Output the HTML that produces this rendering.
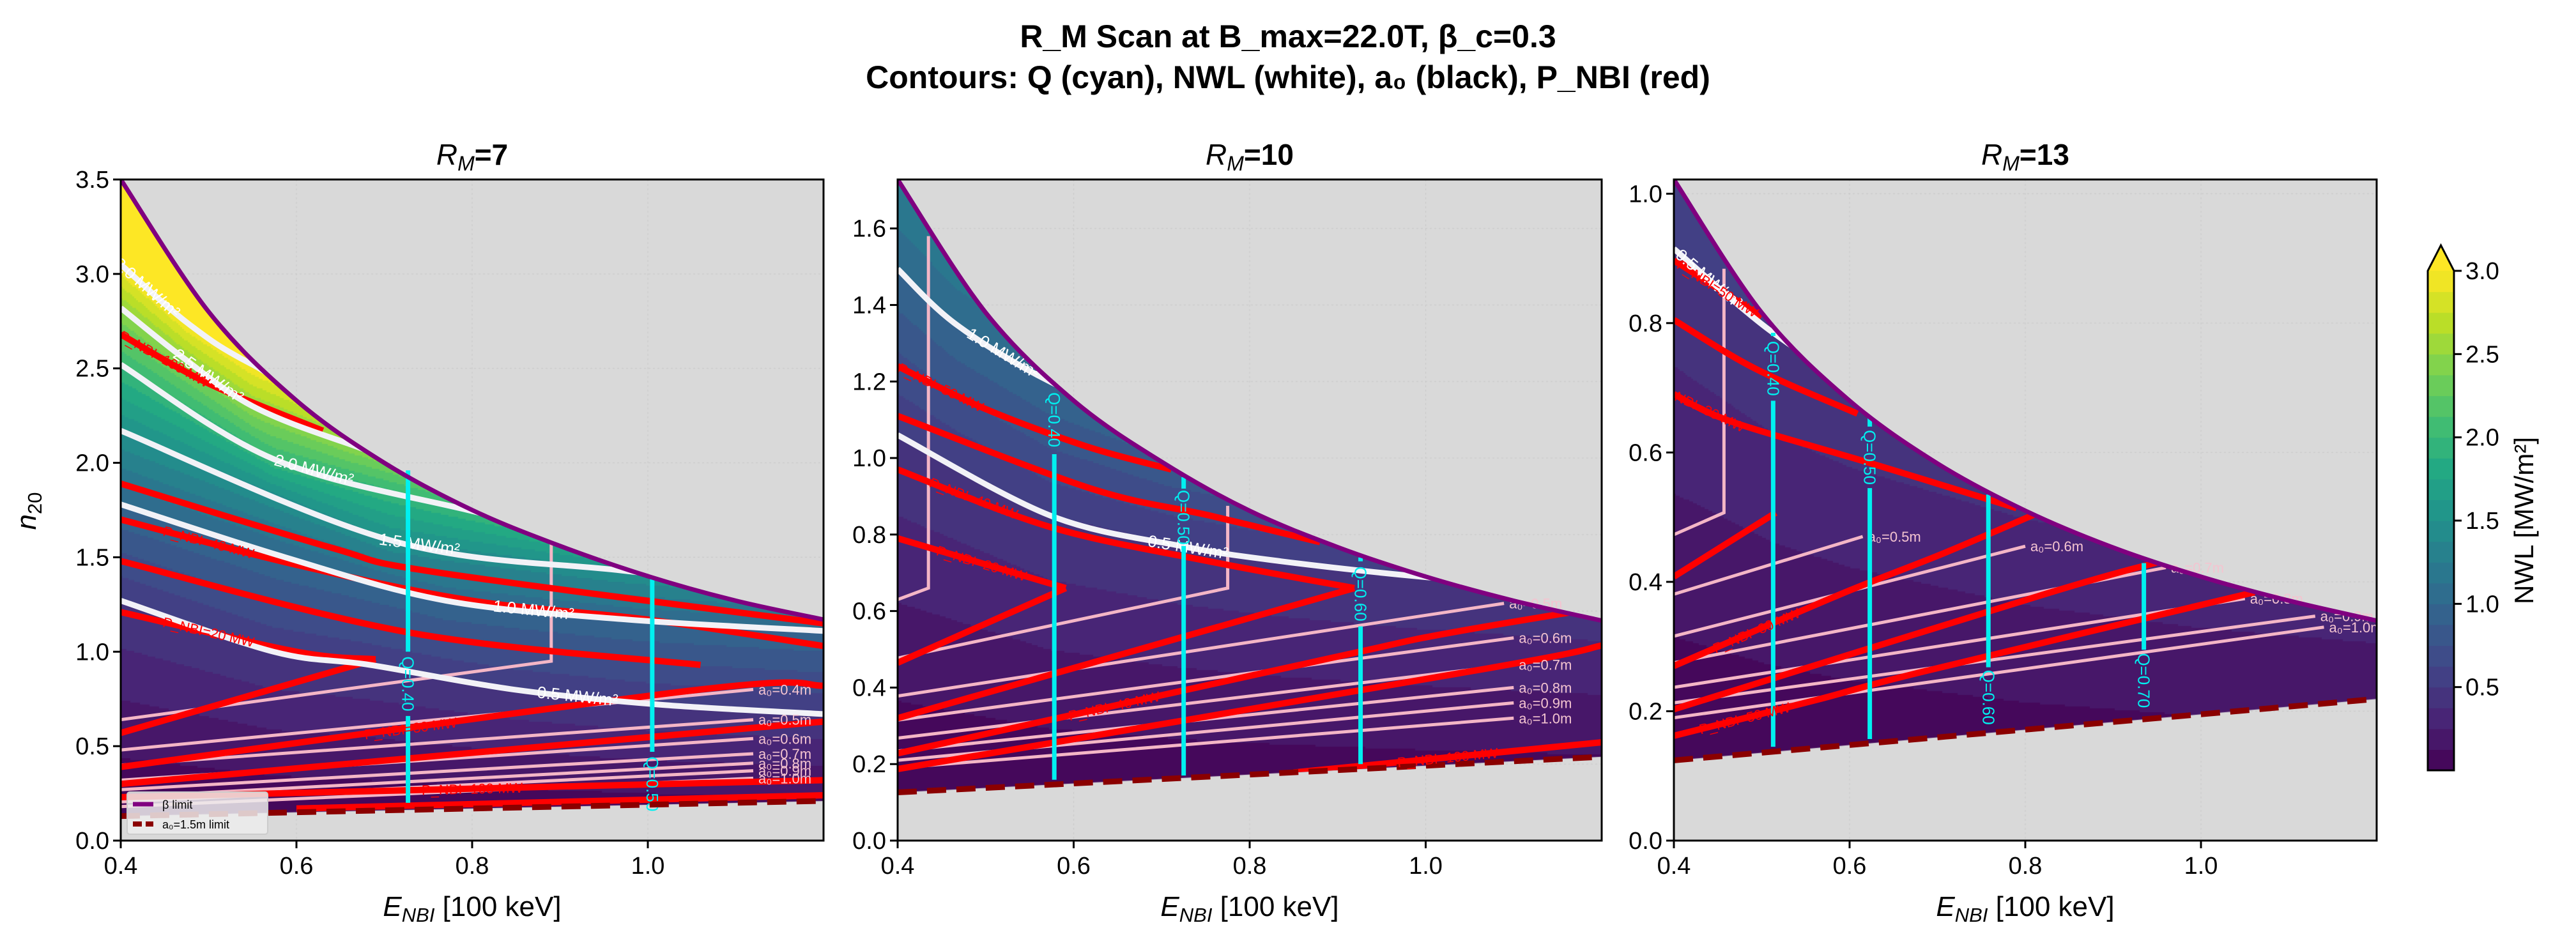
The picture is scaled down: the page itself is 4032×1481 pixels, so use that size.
<!DOCTYPE html>
<html>
<head>
<meta charset="utf-8">
<style>
  html,body{margin:0;padding:0;background:#fff;}
  #wrap{position:relative;width:4032px;height:1481px;overflow:hidden;background:#fff;}
  canvas,svg{position:absolute;left:0;top:0;}
  text{font-family:"Liberation Sans","DejaVu Sans",sans-serif;}
</style>
</head>
<body>
<div id="wrap">
<canvas id="cv" width="4032" height="1481"></canvas>
<svg id="sv" width="4032" height="1481" xmlns="http://www.w3.org/2000/svg">
  <text x="2016" y="74" text-anchor="middle" font-size="50" font-weight="bold">R_M Scan at B_max=22.0T, β_c=0.3</text>
  <text x="2016" y="138" text-anchor="middle" font-size="50" font-weight="bold">Contours: Q (cyan), NWL (white), a₀ (black), P_NBI (red)</text>
</svg>
</div>
<script>
// ---------------- DATA ----------------
const xTicks = [0.4, 0.6, 0.8, 1.0];
const panelTitles = ['7', '10', '13'];
const p1YTicks = [0.0, 0.5, 1.0, 1.5, 2.0, 2.5, 3.0, 3.5];
const p2YTicks = [0.0, 0.2, 0.4, 0.6, 0.8, 1.0, 1.2, 1.4, 1.6];
const p3YTicks = [0.0, 0.2, 0.4, 0.6, 0.8, 1.0];
const yMaxes = [3.5, 1.728, 1.022];

const p1Beta = [[0.4,3.5],[0.5,2.8],[0.6,2.33],[0.7,2.0],[0.8,1.75],[0.9,1.56],[1.0,1.4],[1.1,1.27],[1.2,1.17]];
const p2Beta = [[0.4,1.728],[0.5,1.38],[0.6,1.15],[0.7,0.99],[0.8,0.862],[0.9,0.767],[1.0,0.69],[1.1,0.627],[1.2,0.575]];
const p3Beta = [[0.4,1.022],[0.5,0.816],[0.6,0.68],[0.7,0.583],[0.8,0.51],[0.9,0.453],[1.0,0.408],[1.1,0.371],[1.2,0.34]];
const p1Lower = [[0.4,0.13],[1.2,0.21]];
const p2Lower = [[0.4,0.126],[1.2,0.219]];
const p3Lower = [[0.4,0.124],[1.2,0.219]];

const p1NwlLevels = [0.5, 1.0, 1.5, 2.0, 2.5, 3.0];
const p1NwlCurves = [
  [[0.4,1.27],[0.574,1.0],[0.684,0.93],[0.847,0.80],[1.013,0.72],[1.2,0.67]],
  [[0.4,1.78],[0.587,1.5],[0.77,1.27],[0.977,1.17],[1.2,1.11]],
  [[0.4,2.17],[0.707,1.59],[0.97,1.43],[1.2,1.33]],
  [[0.4,2.52],[0.574,2.02],[0.795,1.75],[1.0,1.55],[1.2,1.42]],
  [[0.4,2.82],[0.47,2.56],[0.55,2.3],[0.66,2.1],[0.8,1.9],[1.2,1.55]],
  [[0.4,3.05],[0.476,2.74],[0.55,2.52],[0.7,2.2],[1.2,1.7]]
];
const p2NwlLevels = [0.5, 1.0];
const p2NwlCurves = [
  [[0.4,1.06],[0.573,0.85],[0.722,0.77],[0.836,0.73],[0.993,0.69],[1.2,0.65]],
  [[0.4,1.494],[0.466,1.35],[0.573,1.2],[0.7,1.08],[0.9,0.97],[1.2,0.88]]
];
const p3NwlLevels = [0.5];
const p3NwlCurves = [
  [[0.4,0.915],[0.513,0.785],[0.6,0.72],[0.8,0.62],[1.0,0.56],[1.2,0.52]]
];

const p1Red = [
  [[0.4,2.68],[0.5,2.42],[0.63,2.17]],
  [[0.4,1.89],[0.64,1.55],[0.76,1.42],[1.2,1.15]],
  [[0.4,1.70],[0.6,1.46],[0.8,1.27],[1.0,1.17],[1.2,1.03]],
  [[0.4,1.48],[0.73,1.10],[1.06,0.93]],
  [[0.4,1.21],[0.6,1.0],[0.69,0.96]],
  [[0.69,0.96],[0.4,0.57]],
  [[0.4,0.39],[1.06,0.80],[1.2,0.82]],
  [[0.4,0.30],[1.2,0.63]],
  [[0.4,0.23],[1.2,0.32]],
  [[0.6,0.17],[1.2,0.24]]
];
const p1RedLabels = ['100','50','40','30','20','20','30','50','100','100'];
const p2Red = [
  [[0.4,1.24],[0.498,1.13],[0.615,1.03],[0.711,0.97]],
  [[0.4,1.11],[0.62,0.92],[0.754,0.85],[0.88,0.78]],
  [[0.4,0.97],[0.573,0.82],[0.754,0.73],[0.919,0.66]],
  [[0.919,0.66],[0.4,0.32]],
  [[0.4,0.79],[0.591,0.66]],
  [[0.591,0.66],[0.4,0.465]],
  [[0.4,0.228],[0.892,0.477],[1.02,0.54],[1.2,0.61]],
  [[0.4,0.187],[1.07,0.45],[1.2,0.51]],
  [[0.85,0.178],[1.2,0.257]]
];
const p2RedLabels = ['50','50','40','30','20','20','40','50','100'];
const p3Red = [
  [[0.4,0.897],[0.5,0.81]],
  [[0.4,0.805],[0.492,0.73],[0.609,0.66]],
  [[0.4,0.69],[0.465,0.648],[0.625,0.583],[0.79,0.514]],
  [[0.4,0.408],[0.516,0.507]],
  [[0.4,0.27],[0.588,0.38],[0.705,0.443],[0.81,0.504]],
  [[0.4,0.203],[0.822,0.381],[0.95,0.43]],
  [[0.4,0.162],[0.561,0.217],[0.683,0.261],[1.061,0.384]]
];
const p3RedLabels = ['50','40','30','20','30','40','50'];

const p1Pink = [
  [[0.4,0.64],[0.89,0.95],[0.89,1.58]],
  [[0.4,0.48],[1.12,0.80]],
  [[0.4,0.40],[1.12,0.64]],
  [[0.4,0.32],[1.12,0.54]],
  [[0.4,0.27],[1.12,0.46]],
  [[0.4,0.23],[1.12,0.41]],
  [[0.4,0.205],[1.12,0.37]],
  [[0.4,0.18],[1.12,0.33]]
];
const p1PinkLabels = ['', 'a₀=0.4m', 'a₀=0.5m', 'a₀=0.6m', 'a₀=0.7m', 'a₀=0.8m', 'a₀=0.9m', 'a₀=1.0m'];
const p2Pink = [
  [[0.4,0.63],[0.435,0.66],[0.435,1.58]],
  [[0.4,0.477],[0.775,0.66],[0.775,0.875]],
  [[0.4,0.378],[1.089,0.62]],
  [[0.4,0.315],[1.1,0.53]],
  [[0.4,0.268],[1.1,0.46]],
  [[0.4,0.234],[1.1,0.40]],
  [[0.4,0.21],[1.1,0.36]],
  [[0.4,0.19],[1.1,0.32]]
];
const p2PinkLabels = ['', '', 'a₀=0.5m', 'a₀=0.6m', 'a₀=0.7m', 'a₀=0.8m', 'a₀=0.9m', 'a₀=1.0m'];
const p3Pink = [
  [[0.4,0.473],[0.457,0.507],[0.457,0.884]],
  [[0.4,0.381],[0.615,0.47]],
  [[0.4,0.316],[0.8,0.455]],
  [[0.4,0.275],[0.96,0.422]],
  [[0.4,0.237],[1.05,0.374]],
  [[0.4,0.213],[1.13,0.347]],
  [[0.4,0.19],[1.14,0.33]]
];
const p3PinkLabels = ['', 'a₀=0.5m', 'a₀=0.6m', 'a₀=0.7m', 'a₀=0.8m', 'a₀=0.9m', 'a₀=1.0m'];

const p1QE = [0.727, 1.005];
const p1QRange = [[0.2,1.96],[0.13,1.39]];
const p1QGap = [[0.66,1.0],[0.13,0.47]];
const p1QLabels = ['Q=0.40','Q=0.50'];
const p2QE = [0.578, 0.725, 0.926];
const p2QRange = [[0.159,1.19],[0.17,0.95],[0.2,0.74]];
const p2QGap = [[1.01,1.19],[0.77,0.92],[0.56,0.73]];
const p2QLabels = ['Q=0.40','Q=0.50','Q=0.60'];
const p3QE = [0.513, 0.623, 0.758, 0.935];
const p3QRange = [[0.145,0.785],[0.157,0.654],[0.175,0.535],[0.2,0.429]];
const p3QGap = [[0.68,0.78],[0.545,0.64],[0.175,0.268],[0.2,0.295]];
const p3QLabels = ['Q=0.40','Q=0.50','Q=0.60','Q=0.70'];

const cbTicks = [0.5, 1.0, 1.5, 2.0, 2.5, 3.0];

// ---------------- LAYOUT ----------------
const Y0 = 281, Y1 = 1316, XMIN = 0.4, XMAX = 1.2;
const panelX = [[189,1289],[1405,2507],[2620,3720]];
const NS = 'http://www.w3.org/2000/svg';
const svg = document.getElementById('sv');
const ctx = document.getElementById('cv').getContext('2d');

function el(tag, attrs, parent) {
  const e = document.createElementNS(NS, tag);
  for (const k in attrs) e.setAttribute(k, attrs[k]);
  (parent || svg).appendChild(e);
  return e;
}
const VIR = ['#440154','#482475','#414487','#355f8d','#2a788e','#21918c','#22a884','#44bf70','#7ad151','#bddf26','#fde725'];
function hex(h){return [parseInt(h.substr(1,2),16),parseInt(h.substr(3,2),16),parseInt(h.substr(5,2),16)];}
const VIRC = VIR.map(hex);
function viridis(t) {
  t = Math.max(0, Math.min(1, t));
  const f = t * 10, i = Math.min(9, Math.floor(f)), r = f - i;
  const a = VIRC[i], b = VIRC[i+1];
  return 'rgb(' + Math.round(a[0]+(b[0]-a[0])*r) + ',' + Math.round(a[1]+(b[1]-a[1])*r) + ',' + Math.round(a[2]+(b[2]-a[2])*r) + ')';
}
function bandColor(v) {
  const b = Math.floor(v / 0.125);
  if (b >= 24) return '#fde725';
  return viridis((Math.max(b,0) + 0.5) / 24);
}
function interp(curve, E) {
  let i = 0;
  if (E <= curve[0][0]) i = 0;
  else if (E >= curve[curve.length-1][0]) i = curve.length - 2;
  else { while (i < curve.length - 2 && curve[i+1][0] < E) i++; }
  const a = curve[i], b = curve[i+1];
  return a[1] + (b[1]-a[1]) * (E - a[0]) / (b[0]-a[0]);
}
function linD(pts, sx, sy) {
  return 'M' + pts.map(p => sx(p[0]).toFixed(1) + ',' + sy(p[1]).toFixed(1)).join(' L');
}
function pathD(pts, sx, sy) {
  const P = pts.map(p => [sx(p[0]), sy(p[1])]);
  if (P.length < 3) return linD(pts, sx, sy);
  let d = 'M' + P[0][0].toFixed(1) + ',' + P[0][1].toFixed(1);
  for (let i = 0; i < P.length - 1; i++) {
    const p0 = P[Math.max(0,i-1)], p1 = P[i], p2 = P[i+1], p3 = P[Math.min(P.length-1,i+2)];
    const c1 = [p1[0] + (p2[0]-p0[0])/6, p1[1] + (p2[1]-p0[1])/6];
    const c2 = [p2[0] - (p3[0]-p1[0])/6, p2[1] - (p3[1]-p1[1])/6];
    d += ' C' + c1[0].toFixed(1)+','+c1[1].toFixed(1)+' '+c2[0].toFixed(1)+','+c2[1].toFixed(1)+' '+p2[0].toFixed(1)+','+p2[1].toFixed(1);
  }
  return d;
}
function nwlAt(n, nv, levels) {
  const L = levels.length;
  if (n <= nv[0]) return levels[0] * Math.pow(Math.max(n,0) / nv[0], 1.3);
  for (let k = 0; k < L - 1; k++) {
    if (n < nv[k+1]) return levels[k] + (levels[k+1]-levels[k]) * (n - nv[k]) / (nv[k+1]-nv[k]);
  }
  if (L >= 2) return levels[L-1] + (levels[L-1]-levels[L-2]) * (n - nv[L-1]) / (nv[L-1]-nv[L-2]);
  return levels[0] * Math.pow(n / nv[0], 1.3);
}

const panels = [
  {beta:p1Beta, lower:p1Lower, levels:p1NwlLevels, curves:p1NwlCurves, red:p1Red, redL:p1RedLabels, pink:p1Pink, pinkLabels:p1PinkLabels, qE:p1QE, qR:p1QRange, qG:p1QGap, qL:p1QLabels, yt:p1YTicks},
  {beta:p2Beta, lower:p2Lower, levels:p2NwlLevels, curves:p2NwlCurves, red:p2Red, redL:p2RedLabels, pink:p2Pink, pinkLabels:p2PinkLabels, qE:p2QE, qR:p2QRange, qG:p2QGap, qL:p2QLabels, yt:p2YTicks},
  {beta:p3Beta, lower:p3Lower, levels:p3NwlLevels, curves:p3NwlCurves, red:p3Red, redL:p3RedLabels, pink:p3Pink, pinkLabels:p3PinkLabels, qE:p3QE, qR:p3QRange, qG:p3QGap, qL:p3QLabels, yt:p3YTicks}
];

const nwlLabelPos = [
  [[0.92,0],[0.87,1],[0.74,2],[0.62,3],[0.5,4],[0.43,5]],
  [[0.73,0],[0.52,1]],
  [[0.44,0]]
];

panels.forEach((P, pi) => {
  const x0 = panelX[pi][0], x1 = panelX[pi][1], ymax = yMaxes[pi];
  const sx = E => x0 + (E - XMIN) / (XMAX - XMIN) * (x1 - x0);
  const sy = n => Y1 - n / ymax * (Y1 - Y0);
  const ix = px => XMIN + (px - x0) / (x1 - x0) * (XMAX - XMIN);
  const iy = py => (Y1 - py) / (Y1 - Y0) * ymax;
  const g = el('g', {});
  
  

  ctx.fillStyle = '#d9d9d9';
  ctx.fillRect(x0, Y0, x1 - x0, Y1 - Y0);
  ctx.strokeStyle = '#c8c8c8'; ctx.lineWidth = 1; ctx.setLineDash([3,4]);
  xTicks.forEach(t => { ctx.beginPath(); ctx.moveTo(sx(t), Y0); ctx.lineTo(sx(t), Y1); ctx.stroke(); });
  P.yt.forEach(t => { ctx.beginPath(); ctx.moveTo(x0, sy(t)); ctx.lineTo(x1, sy(t)); ctx.stroke(); });
  ctx.setLineDash([]);

  const betaD = pathD(P.beta, sx, sy);
  const lo = P.lower;
  const regionD = betaD + ' L' + sx(lo[lo.length-1][0]) + ',' + sy(lo[lo.length-1][1]) + ' L' + sx(lo[0][0]) + ',' + sy(lo[0][1]) + ' Z';
  ctx.save();
  ctx.beginPath(); ctx.rect(x0, Y0, x1-x0, Y1-Y0); ctx.clip();
  ctx.clip(new Path2D(regionD));
  const step = 3;
  for (let px = x0; px < x1; px += step) {
    const E = ix(px + step/2);
    const nv = P.curves.map(c => interp(c, E));
    for (let py = Y0; py < Y1; py += step) {
      const n = iy(py + step/2);
      ctx.fillStyle = bandColor(nwlAt(n, nv, P.levels));
      ctx.fillRect(px, py, step, step);
    }
  }
  ctx.restore();

  const defs = el('defs', {}, g);
  const cp = el('clipPath', {id: 'reg' + pi}, defs);
  el('path', {d: regionD}, cp);
  const cpa = el('clipPath', {id: 'ax' + pi}, defs);
  el('rect', {x: x0, y: Y0, width: x1-x0, height: Y1-Y0}, cpa);
  const cg = el('g', {'clip-path': 'url(#ax' + pi + ')'}, g);
  const rg = el('g', {'clip-path': 'url(#reg' + pi + ')'}, cg);

  // pink a0 contours (straight polylines)
  P.pink.forEach((c, k) => {
    const p = el('path', {d: linD(c, sx, sy), fill: 'none', stroke: '#f4b6c6', 'stroke-width': 5, 'stroke-linejoin': 'miter'}, rg);
    
    
    if (P.pinkLabels[k]) {
      const e = c[c.length-1];
      const t = el('text', {x: sx(e[0]) + 8, y: sy(e[1]) + 8, 'font-size': 22, fill: '#f4c4d0'}, cg);
      t.textContent = P.pinkLabels[k];
      
      
    }
  });
  P.red.forEach(c => {
    const p = el('path', {d: pathD(c, sx, sy), fill: 'none', stroke: '#ff0000', 'stroke-width': 10}, rg);
    
    
  });
  P.curves.forEach((c, k) => {
    const p = el('path', {d: pathD(c, sx, sy), fill: 'none', stroke: '#f2f2f7', 'stroke-width': 9}, rg);
    
    
  });
  nwlLabelPos[pi].forEach(lp => {
    const c = P.curves[lp[1]], E = lp[0];
    const xa = sx(E - 0.01), ya = sy(interp(c, E - 0.01)), xb = sx(E + 0.01), yb = sy(interp(c, E + 0.01));
    const ang = Math.atan2(yb - ya, xb - xa) * 180 / Math.PI;
    const X = sx(E), Yp = sy(interp(c, E));
    const t = el('text', {x: X, y: Yp + 9, 'font-size': 26, fill: '#ffffff', 'text-anchor': 'middle', transform: 'rotate(' + ang.toFixed(1) + ' ' + X + ' ' + Yp + ')'}, cg);
    t.textContent = P.levels[lp[1]].toFixed(1) + ' MW/m²';
    
    
  });
  P.qE.forEach((E, k) => {
    const r = P.qR[k], gp = P.qG[k];
    const segs = [[r[0], gp[0]], [gp[1], r[1]]];
    segs.forEach(s => {
      if (s[1] - s[0] > 0.005) {
        const l = el('line', {x1: sx(E), x2: sx(E), y1: sy(s[0]), y2: sy(s[1]), stroke: '#00f0f0', 'stroke-width': 7}, cg);
        
        
      }
    });
    const ym = sy((gp[0] + gp[1]) / 2), X = sx(E);
    const t = el('text', {x: X, y: ym + 9, 'font-size': 26, fill: '#00f0f0', 'text-anchor': 'middle', transform: 'rotate(90 ' + X + ' ' + ym + ')'}, cg);
    t.textContent = P.qL[k];
    
    
  });
  const bp = el('path', {d: betaD, fill: 'none', stroke: '#800080', 'stroke-width': 7}, cg);
  
  
  const lp = el('path', {d: linD(P.lower, sx, sy), fill: 'none', stroke: '#8b0000', 'stroke-width': 9, 'stroke-dasharray': '30,16'}, cg);
  
  

  P.red.forEach((c, k) => {
    if (c.length < 2 || k % 2) return;
    const a = c[0], b = c[1];
    const E = a[0] + (b[0]-a[0]) * 0.5, n = a[1] + (b[1]-a[1]) * 0.5;
    const ang = Math.atan2(sy(b[1]) - sy(a[1]), sx(b[0]) - sx(a[0])) * 180 / Math.PI;
    const fl = Math.abs(ang) > 90 ? ang + 180 : ang;
    const t = el('text', {x: sx(E), y: sy(n) + 8, 'font-size': 22, fill: '#ff0000', 'text-anchor': 'middle', transform: 'rotate(' + fl.toFixed(1) + ' ' + sx(E) + ' ' + sy(n) + ')'}, cg);
    t.textContent = 'P_NBI=' + P.redL[k] + ' MW';
    
    
  });

  const fr = el('rect', {x: x0, y: Y0, width: x1-x0, height: Y1-Y0, fill: 'none', stroke: '#000', 'stroke-width': 3}, g);
  
  
  xTicks.forEach(t => {
    el('line', {x1: sx(t), x2: sx(t), y1: Y1, y2: Y1 + 12, stroke: '#000', 'stroke-width': 3}, g);
    const tx = el('text', {x: sx(t), y: Y1 + 52, 'font-size': 38, 'text-anchor': 'middle'}, g);
    tx.textContent = t.toFixed(1);
    
    
  });
  P.yt.forEach(t => {
    el('line', {x1: x0 - 12, x2: x0, y1: sy(t), y2: sy(t), stroke: '#000', 'stroke-width': 3}, g);
    const tx = el('text', {x: x0 - 18, y: sy(t) + 13, 'font-size': 38, 'text-anchor': 'end'}, g);
    tx.textContent = t.toFixed(1);
    
    
  });
  const xl = el('text', {x: (x0 + x1) / 2, y: Y1 + 118, 'font-size': 44, 'text-anchor': 'middle'}, g);
  xl.innerHTML = '<tspan font-style="italic">E</tspan><tspan font-style="italic" font-size="31" dy="9">NBI</tspan><tspan dy="-9"> [100 keV]</tspan>';
  
  
  const tt = el('text', {x: (x0 + x1) / 2, y: 258, 'font-size': 46, 'text-anchor': 'middle', 'font-weight': 'bold'}, g);
  tt.innerHTML = '<tspan font-style="italic" font-weight="normal">R</tspan><tspan font-style="italic" font-weight="normal" font-size="32" dy="9">M</tspan><tspan dy="-9">=' + panelTitles[pi] + '</tspan>';
  
  
});

const yl = el('text', {x: 0, y: 0, 'font-size': 44, 'text-anchor': 'middle', transform: 'translate(56,800) rotate(-90)'});
yl.innerHTML = '<tspan font-style="italic">n</tspan><tspan font-size="31" dy="9">20</tspan>';



const lg = el('g', {});


el('rect', {x: 199, y: 1240, width: 220, height: 66, fill: '#ececec', 'fill-opacity': 0.85, stroke: '#cccccc', 'stroke-width': 2, rx: 4}, lg);
el('line', {x1: 208, x2: 240, y1: 1259, y2: 1259, stroke: '#800080', 'stroke-width': 7}, lg);
const l1 = el('text', {x: 254, y: 1266, 'font-size': 18}, lg);
l1.textContent = 'β limit';


el('line', {x1: 208, x2: 240, y1: 1290, y2: 1290, stroke: '#8b0000', 'stroke-width': 8, 'stroke-dasharray': '14,6'}, lg);
const l2 = el('text', {x: 254, y: 1297, 'font-size': 18}, lg);
l2.textContent = 'a₀=1.5m limit';



const CB0 = 1206, CB1 = 424, CBX = 3800, CBW = 41;
const cb = el('g', {});


const cy = v => CB0 - v / 3.0 * (CB0 - CB1);
for (let b = 0; b < 24; b++) {
  el('rect', {x: CBX, y: cy((b+1)*0.125), width: CBW, height: cy(b*0.125) - cy((b+1)*0.125) + 0.6, fill: viridis((b+0.5)/24)}, cb);
}
el('polygon', {points: CBX + ',' + CB1 + ' ' + (CBX+CBW/2) + ',' + (CB1-40) + ' ' + (CBX+CBW) + ',' + CB1, fill: '#fde725'}, cb);
el('path', {d: 'M' + CBX + ',' + CB0 + ' L' + CBX + ',' + CB1 + ' L' + (CBX+CBW/2) + ',' + (CB1-40) + ' L' + (CBX+CBW) + ',' + CB1 + ' L' + (CBX+CBW) + ',' + CB0 + ' Z', fill: 'none', stroke: '#000', 'stroke-width': 3}, cb);
cbTicks.forEach(t => {
  el('line', {x1: CBX + CBW, x2: CBX + CBW + 12, y1: cy(t), y2: cy(t), stroke: '#000', 'stroke-width': 3}, cb);
  const tx = el('text', {x: CBX + CBW + 18, y: cy(t) + 13, 'font-size': 38}, cb);
  tx.textContent = t.toFixed(1);
  
  
});
const cbl = el('text', {x: 0, y: 0, 'font-size': 42, 'text-anchor': 'middle', transform: 'translate(3965,815) rotate(-90)'}, cb);
cbl.textContent = 'NWL [MW/m²]';


</script>
</body>
</html>
